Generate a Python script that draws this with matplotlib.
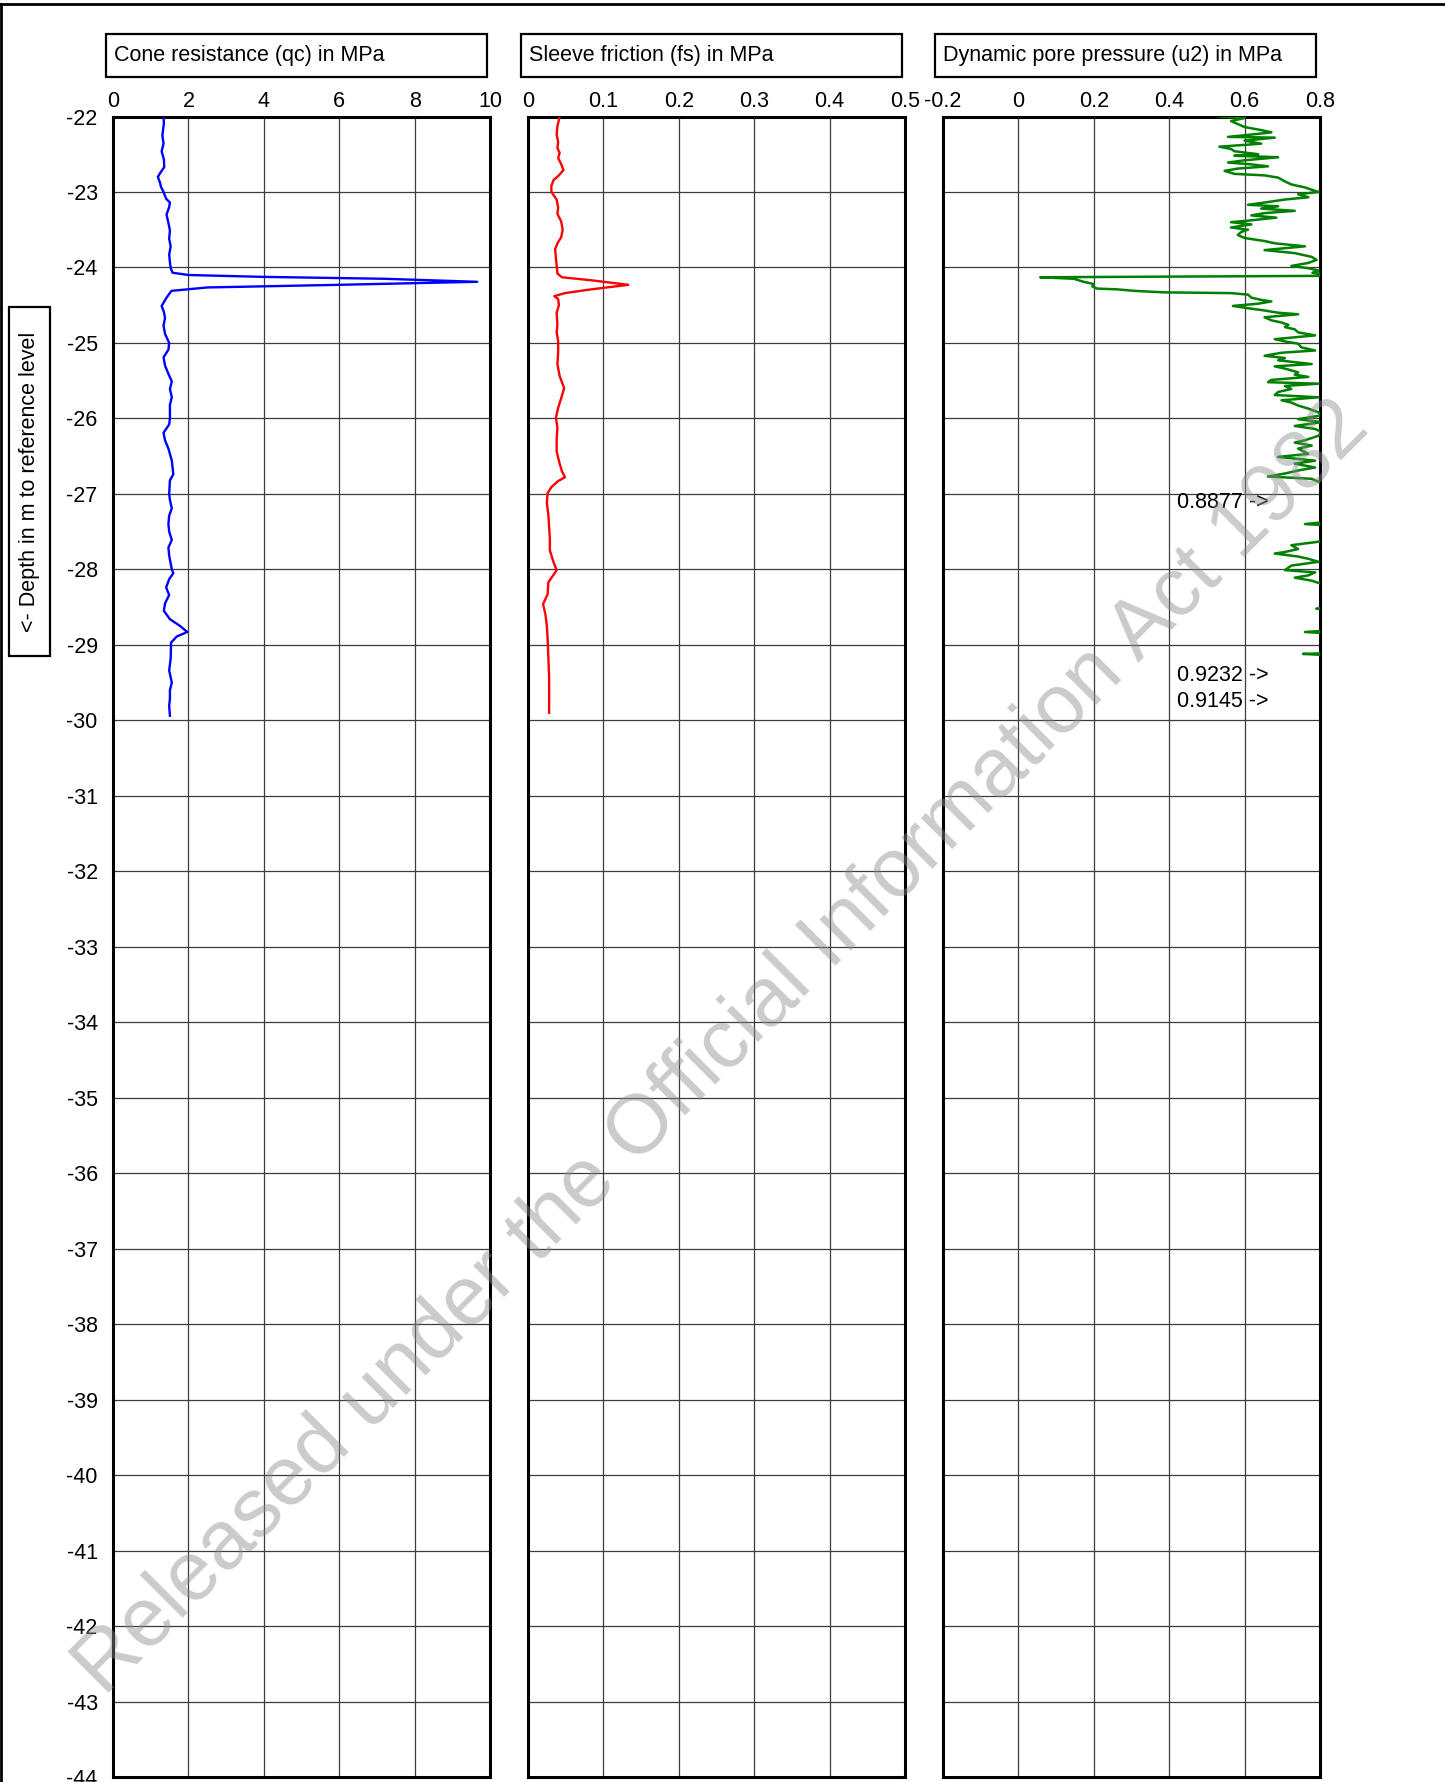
import matplotlib
matplotlib.use("Agg")
import matplotlib.pyplot as plt
from matplotlib.patches import Rectangle
from matplotlib.lines import Line2D

plt.rcParams["font.family"] = ["Liberation Sans", "DejaVu Sans"]
plt.rcParams["font.size"] = 15.5

# cone resistance qc (MPa) vs depth (m)
qc_depth = [-22.00, -22.09, -22.25, -22.36, -22.46, -22.57, -22.67, -22.75, -22.80, -22.88,
            -22.93, -23.00, -23.09, -23.14, -23.20, -23.30, -23.41, -23.51, -23.62, -23.72,
            -23.83, -23.93, -24.01, -24.07, -24.10, -24.125, -24.15, -24.19, -24.23, -24.265,
            -24.31, -24.40, -24.51, -24.59, -24.67, -24.77, -24.88, -25.00, -25.09, -25.19,
            -25.30, -25.41, -25.51, -25.61, -25.72, -25.82, -26.00, -26.08, -26.19, -26.29,
            -26.40, -26.56, -26.74, -26.82, -27.00, -27.08, -27.19, -27.29, -27.40, -27.50,
            -27.61, -27.71, -27.82, -27.92, -28.00, -28.05, -28.13, -28.24, -28.34, -28.45,
            -28.55, -28.66, -28.75, -28.83, -28.89, -28.97, -29.18, -29.34, -29.50, -29.60,
            -29.71, -29.81, -29.94]
qc_values = [1.34, 1.35, 1.31, 1.34, 1.29, 1.35, 1.36, 1.25, 1.19, 1.25,
             1.27, 1.34, 1.41, 1.51, 1.49, 1.42, 1.47, 1.51, 1.49, 1.53,
             1.49, 1.51, 1.53, 1.58, 2.00, 4.00, 7.20, 9.66, 6.00, 2.50,
             1.55, 1.42, 1.29, 1.35, 1.38, 1.34, 1.38, 1.49, 1.47, 1.34,
             1.38, 1.47, 1.56, 1.51, 1.56, 1.51, 1.51, 1.49, 1.34, 1.38,
             1.47, 1.56, 1.60, 1.51, 1.49, 1.51, 1.56, 1.49, 1.47, 1.49,
             1.56, 1.47, 1.49, 1.53, 1.56, 1.60, 1.49, 1.41, 1.49, 1.38,
             1.35, 1.51, 1.78, 1.97, 1.69, 1.54, 1.53, 1.49, 1.56, 1.51,
             1.51, 1.49, 1.51]

# sleeve friction fs (MPa)
fs_depth = [-22.00, -22.13, -22.24, -22.34, -22.42, -22.48, -22.55, -22.63, -22.71, -22.79,
            -22.84, -22.92, -23.00, -23.10, -23.21, -23.29, -23.39, -23.50, -23.60, -23.68,
            -23.76, -23.87, -23.97, -24.08, -24.13, -24.17, -24.23, -24.29, -24.34, -24.38,
            -24.42, -24.50, -24.60, -24.76, -24.86, -24.98, -25.13, -25.28, -25.44, -25.60,
            -25.70, -25.86, -25.99, -26.12, -26.28, -26.44, -26.60, -26.70, -26.78, -26.83,
            -26.91, -26.99, -27.12, -27.28, -27.44, -27.59, -27.75, -27.91, -28.01, -28.07,
            -28.17, -28.33, -28.46, -28.59, -28.75, -28.91, -29.17, -29.43, -29.69, -29.90]
fs_values = [0.042, 0.039, 0.038, 0.040, 0.039, 0.042, 0.040, 0.044, 0.047, 0.040,
             0.034, 0.031, 0.031, 0.038, 0.040, 0.039, 0.044, 0.046, 0.044, 0.039,
             0.036, 0.037, 0.038, 0.039, 0.045, 0.084, 0.133, 0.084, 0.049, 0.035,
             0.040, 0.041, 0.038, 0.039, 0.038, 0.040, 0.040, 0.039, 0.042, 0.048,
             0.045, 0.040, 0.037, 0.039, 0.038, 0.038, 0.042, 0.045, 0.049, 0.040,
             0.031, 0.026, 0.025, 0.027, 0.028, 0.029, 0.029, 0.034, 0.038, 0.034,
             0.027, 0.026, 0.020, 0.023, 0.025, 0.026, 0.027, 0.028, 0.028, 0.028]

# dynamic pore pressure u2 (MPa)
u2_depth = [-22.00, -22.02, -22.06, -22.10, -22.14, -22.18, -22.21, -22.23, -22.27, -22.28,
            -22.32, -22.36, -22.40, -22.43, -22.46, -22.50, -22.52, -22.54, -22.58, -22.61,
            -22.63, -22.66, -22.69, -22.72, -22.76, -22.78, -22.81, -22.86, -22.90, -22.94,
            -23.00, -23.03, -23.07, -23.10, -23.14, -23.17, -23.19, -23.22, -23.25, -23.28,
            -23.31, -23.34, -23.38, -23.40, -23.43, -23.47, -23.50, -23.53, -23.57, -23.61,
            -23.65, -23.68, -23.72, -23.77, -23.81, -23.86, -23.90, -23.94, -23.98, -24.01,
            -24.04, -24.07, -24.09, -24.11,
            -24.13, -24.15, -24.19, -24.22, -24.25, -24.28, -24.29, -24.31, -24.33, -24.34,
            -24.36, -24.40, -24.43, -24.45, -24.48, -24.51, -24.54, -24.57, -24.60, -24.62,
            -24.66, -24.70, -24.73, -24.76, -24.79, -24.82, -24.86, -24.90, -24.95, -24.98,
            -25.01, -25.06, -25.10, -25.13, -25.17, -25.20, -25.23, -25.28, -25.31, -25.34,
            -25.39, -25.42, -25.45, -25.49, -25.52, -25.54, -25.57, -25.61, -25.65, -25.69,
            -25.72, -25.76, -25.79, -25.83, -25.87, -25.92, -25.96, -26.01, -26.05, -26.10,
            -26.14, -26.18, -26.23,
            -26.29, -26.32, -26.36, -26.40, -26.47, -26.51, -26.56, -26.60, -26.65, -26.69,
            -26.73, -26.77, -26.80, -26.84, -26.87, -26.92, -26.97, -27.03, -27.11, -27.17,
            -27.24, -27.31, -27.37, -27.40, -27.42, -27.48, -27.55, -27.61, -27.64, -27.68,
            -27.73, -27.77, -27.79, -27.83, -27.86, -27.90, -27.95, -28.01, -28.04, -28.08,
            -28.11, -28.15, -28.18, -28.22, -28.30, -28.38, -28.46, -28.50, -28.52, -28.54,
            -28.62, -28.70, -28.78, -28.81, -28.83, -28.85, -28.92, -29.00, -29.08, -29.11,
            -29.12, -29.14, -29.22, -29.30, -29.40, -29.50, -29.60, -29.68, -29.75, -29.85,
            -29.95]
u2_values = [0.533, 0.600, 0.564, 0.582, 0.600, 0.644, 0.671, 0.636, 0.556, 0.680,
             0.600, 0.644, 0.533, 0.564, 0.573, 0.636, 0.573, 0.689, 0.600, 0.556,
             0.609, 0.662, 0.582, 0.547, 0.573, 0.653, 0.689, 0.707, 0.724, 0.760,
             0.796, 0.742, 0.769, 0.707, 0.653, 0.609, 0.689, 0.644, 0.733, 0.653,
             0.618, 0.684, 0.609, 0.564, 0.618, 0.564, 0.609, 0.591, 0.582, 0.600,
             0.653, 0.680, 0.760, 0.653, 0.733, 0.778, 0.791, 0.769, 0.724, 0.769,
             0.796, 0.780, 0.810, 0.860,
             0.058, 0.147, 0.173, 0.200, 0.196, 0.209, 0.262, 0.307, 0.387, 0.564,
             0.609, 0.618, 0.644, 0.671, 0.636, 0.569, 0.609, 0.653, 0.689, 0.742,
             0.653, 0.671, 0.698, 0.716, 0.707, 0.733, 0.742, 0.787, 0.680, 0.707,
             0.742, 0.751, 0.787, 0.698, 0.653, 0.707, 0.689, 0.778, 0.680, 0.707,
             0.742, 0.733, 0.769, 0.671, 0.662, 0.796, 0.707, 0.724, 0.689, 0.680,
             0.796, 0.698, 0.724, 0.742, 0.769, 0.796, 0.804, 0.742, 0.804, 0.733,
             0.787, 0.804, 0.796,
             0.760, 0.733, 0.778, 0.742, 0.769, 0.689, 0.787, 0.733, 0.787, 0.742,
             0.707, 0.662, 0.778, 0.796, 0.820, 0.850, 0.830, 0.860, 0.8877, 0.850,
             0.860, 0.830, 0.820, 0.760, 0.830, 0.850, 0.840, 0.820, 0.787, 0.724,
             0.742, 0.707, 0.680, 0.742, 0.769, 0.796, 0.724, 0.707, 0.787, 0.769,
             0.733, 0.778, 0.796, 0.830, 0.850, 0.840, 0.860, 0.830, 0.790, 0.840,
             0.860, 0.850, 0.840, 0.820, 0.760, 0.830, 0.860, 0.870, 0.840, 0.820,
             0.755, 0.830, 0.880, 0.900, 0.9232, 0.900, 0.890, 0.900, 0.9145, 0.890,
             0.880]

# off-scale maxima printed next to the u2 track
u2_flagged = [0.8877, 0.9232, 0.9145]

titles = ["Cone resistance (qc) in MPa", "Sleeve friction (fs) in MPa",
          "Dynamic pore pressure (u2) in MPa"]
x_ticks = [[0, 2, 4, 6, 8, 10],
           [0, 0.1, 0.2, 0.3, 0.4, 0.5],
           [-0.2, 0, 0.2, 0.4, 0.6, 0.8]]
x_ticklabels = [["0", "2", "4", "6", "8", "10"],
                ["0", "0.1", "0.2", "0.3", "0.4", "0.5"],
                ["-0.2", "0", "0.2", "0.4", "0.6", "0.8"]]
depth_ticks = list(range(-44, -21))

W, H = 1445, 1782
fig = plt.figure(figsize=(W / 100, H / 100), dpi=100)


def fx(px):
    return px / W


def fy(py):
    return 1 - py / H


panel_left = [113, 528, 943]
box_left = [106, 521, 935]
panel_w = 377
top, bottom = 116.5, 1777

series = [(qc_depth, qc_values, "#0000ff", 1.7),
          (fs_depth, fs_values, "#ff0000", 1.7),
          (u2_depth, u2_values, "#008000", 1.8)]

axes = []
for i in range(3):
    ax = fig.add_axes([fx(panel_left[i]), fy(bottom), fx(panel_w), (bottom - top) / H])
    d, v, c, lw = series[i]
    ax.plot(v, d, color=c, lw=lw, zorder=3)
    ax.set_xlim(x_ticks[i][0], x_ticks[i][-1])
    ax.set_ylim(-44, -22)
    ax.set_xticks(x_ticks[i])
    ax.set_xticklabels(x_ticklabels[i])
    ax.set_yticks(depth_ticks)
    ax.set_yticklabels([str(t) for t in depth_ticks])
    ax.xaxis.tick_top()
    ax.grid(True, color="#3c3c3c", lw=0.9, zorder=1)
    ax.set_axisbelow(True)
    ax.tick_params(axis="x", length=0, pad=3, labelsize=15.5)
    ax.tick_params(axis="y", length=0, pad=11, labelsize=15.5, labelleft=(i == 0))
    for s in ax.spines.values():
        s.set_linewidth(2.2)
    axes.append(ax)

    # title box above each track
    fig.patches.append(Rectangle((fx(box_left[i]), fy(77)), fx(381), 43 / H,
                                 transform=fig.transFigure, fill=False,
                                 edgecolor="black", lw=1.6))
    fig.text(fx(box_left[i] + 8), fy(56), titles[i], ha="left", va="center", fontsize=15.5)

# annotate u2 readings beyond the right edge of the scale
for val in u2_flagged:
    dep = u2_depth[u2_values.index(val)]
    axes[2].text(0.42, dep, f"{val:.4f} ->", ha="left", va="center", fontsize=15.5, zorder=4)

# depth label box
fig.patches.append(Rectangle((fx(9), fy(656)), fx(41), 349 / H, transform=fig.transFigure,
                             fill=False, edgecolor="black", lw=1.6))
fig.text(fx(29.5), fy(481.5), "<- Depth in m to reference level", rotation=90,
         ha="center", va="center", fontsize=15.5)

# page frame
fig.lines.append(Line2D([fx(1), fx(1)], [0, fy(4)], transform=fig.transFigure,
                        color="black", lw=2))
fig.lines.append(Line2D([fx(1), 1], [fy(4), fy(4)], transform=fig.transFigure,
                        color="black", lw=2))

fig.text(0.4997, 0.412, "Released under the Official Information Act 1982", rotation=45,
         rotation_mode="anchor", ha="center", va="center", fontsize=60,
         color="#8c8c8c", alpha=0.45, zorder=10)

fig.savefig("out.png", dpi=100)
